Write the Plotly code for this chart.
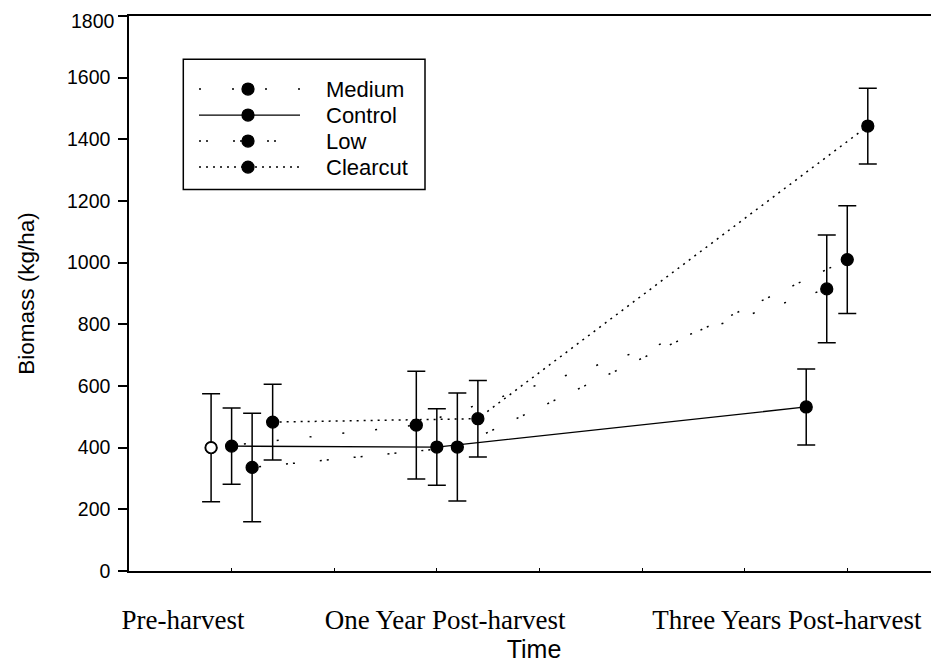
import plotly.graph_objects as go

# ---------------- data ----------------
series_names = ["Medium", "Control", "Low", "Clearcut"]

medium_x = [-0.1, 0.9, 2.9]
medium_y = [400, 473, 915]
medium_err = [175, 175, 175]

control_x = [0.0, 1.0, 2.8]
control_y = [405, 402, 532]
control_err = [124, 124, 123]

low_x = [0.1, 1.1, 3.0]
low_y = [336, 402, 1010]
low_err = [176, 175, 175]

clearcut_x = [0.2, 1.2, 3.1]
clearcut_y = [483, 494, 1443]
clearcut_err = [123, 124, 123]

group_labels = ["Pre-harvest", "One Year Post-harvest", "Three Years Post-harvest"]
group_label_x = [-0.237, 1.04, 2.706]

y_ticks = [0, 200, 400, 600, 800, 1000, 1200, 1400, 1600, 1800]
x_minor_ticks = [0, 0.5, 1.0, 1.5, 2.0, 2.5, 3.0]

# ---------------- styles ----------------
SANS = "Liberation Sans, Arial, sans-serif"
SERIF = "Liberation Serif, Times New Roman, serif"
styles = {
    "Medium": dict(dash="2px,31px", width=1.5),
    "Control": dict(dash="solid", width=1.3),
    "Low": dict(dash="2px,5px,2px,25px", width=1.5),
    "Clearcut": dict(dash="2px,5px", width=1.5),
}

data = {
    "Medium": (medium_x, medium_y, medium_err),
    "Control": (control_x, control_y, control_err),
    "Low": (low_x, low_y, low_err),
    "Clearcut": (clearcut_x, clearcut_y, clearcut_err),
}

fig = go.Figure()

for name in series_names:
    xs, ys, es = data[name]
    fig.add_trace(go.Scatter(
        x=xs, y=ys, name=name, mode="lines+markers",
        line=dict(color="black", width=styles[name]["width"], dash=styles[name]["dash"]),
        marker=dict(symbol="circle", size=12, color="black",
                    line=dict(color="black", width=1.3)),
        error_y=dict(type="data", array=es, visible=True, color="black",
                     thickness=1.5, width=9),
        showlegend=False,
    ))

# pre-harvest Medium value is drawn as an open circle
fig.add_trace(go.Scatter(
    x=medium_x[:1], y=medium_y[:1], mode="markers", name="Medium (pre-harvest)",
    marker=dict(symbol="circle", size=11, color="white", line=dict(color="black", width=1.5)),
    showlegend=False,
))

# ---------------- custom legend (pixel overlay axes, window pixels) ----------------
PLOT_L, PLOT_R, PLOT_T, PLOT_B = 129, 939, 16, 570.7
PAGE_OFFSET = 8  # default page margin around the figure
FIG_W, FIG_H = 939 - PAGE_OFFSET, 670 - PAGE_OFFSET
legend_rows = [89, 115, 141, 167]
line_x0, line_x1, marker_x, text_x = 199, 300, 248, 324

for name, ry in zip(series_names, legend_rows):
    fig.add_trace(go.Scatter(
        x=[line_x0, line_x1], y=[ry, ry], mode="lines",
        line=dict(color="black", width=styles[name]["width"], dash=styles[name]["dash"]),
        xaxis="x2", yaxis="y2", showlegend=False, hoverinfo="skip",
    ))
    fig.add_trace(go.Scatter(
        x=[marker_x], y=[ry], mode="markers",
        marker=dict(symbol="circle", size=12, color="black", line=dict(color="black", width=1.3)),
        xaxis="x2", yaxis="y2", showlegend=False, hoverinfo="skip",
    ))
    fig.add_annotation(x=text_x, y=ry, xref="x2", yref="y2", text=name,
                       showarrow=False, xanchor="left", yanchor="middle",
                       font=dict(family=SANS, size=22, color="black"))

fig.add_shape(type="rect", xref="x2", yref="y2", x0=183.3, x1=425, y0=59.3, y1=189.3,
              line=dict(color="black", width=1.5), fillcolor="rgba(0,0,0,0)")

# y tick labels: the topmost one sits at the very top edge, so it is drawn as an
# annotation nudged slightly down to stay fully inside the page
y_ticktext = [str(v) for v in y_ticks[:-1]] + [""]
fig.add_annotation(x=0, y=y_ticks[-1], xref="paper", yref="y", text=str(y_ticks[-1]),
                   showarrow=False, xanchor="right", yanchor="middle",
                   xshift=-12, yshift=-5,
                   font=dict(family=SANS, size=19.5, color="black"))

fig.update_layout(
    width=FIG_W, height=FIG_H,
    margin=dict(l=PLOT_L - PAGE_OFFSET, r=939 - PLOT_R, t=PLOT_T - PAGE_OFFSET,
                b=670 - PLOT_B, autoexpand=False),
    paper_bgcolor="white", plot_bgcolor="white",
    font=dict(family=SANS, size=20, color="black"),
    xaxis=dict(
        range=[-0.5, 3.447], showgrid=False, zeroline=False, automargin=False,
        showline=True, linecolor="black", linewidth=1.5, mirror=True,
        tickmode="array", tickvals=group_label_x, ticktext=group_labels,
        ticks="", ticklabelstandoff=24, ticklabeloverflow="allow",
        tickfont=dict(family=SERIF, size=27, color="black"),
        minor=dict(tickmode="array", tickvals=x_minor_ticks, ticks="inside", ticklen=3,
                   tickcolor="black", tickwidth=1),
        title=dict(text="Time", font=dict(family=SANS, size=25, color="black"), standoff=2),
    ),
    yaxis=dict(
        range=[0, 1800], showgrid=False, zeroline=False, automargin=False,
        showline=True, linecolor="black", linewidth=1.5, mirror=False,
        tickmode="array", tickvals=y_ticks, ticktext=y_ticktext,
        ticks="outside", ticklen=9, tickwidth=1.5, tickcolor="black",
        ticklabelstandoff=4, ticklabeloverflow="allow",
        tickfont=dict(family=SANS, size=19.5, color="black"),
        title=dict(text="Biomass (kg/ha)", font=dict(family=SANS, size=22.5, color="black"), standoff=26),
    ),
    xaxis2=dict(range=[PLOT_L, PLOT_R], overlaying="x", anchor="y2", visible=False, fixedrange=True),
    yaxis2=dict(range=[PLOT_B, PLOT_T], overlaying="y", anchor="x2", visible=False, fixedrange=True),
)

fig.write_html("out.html")
